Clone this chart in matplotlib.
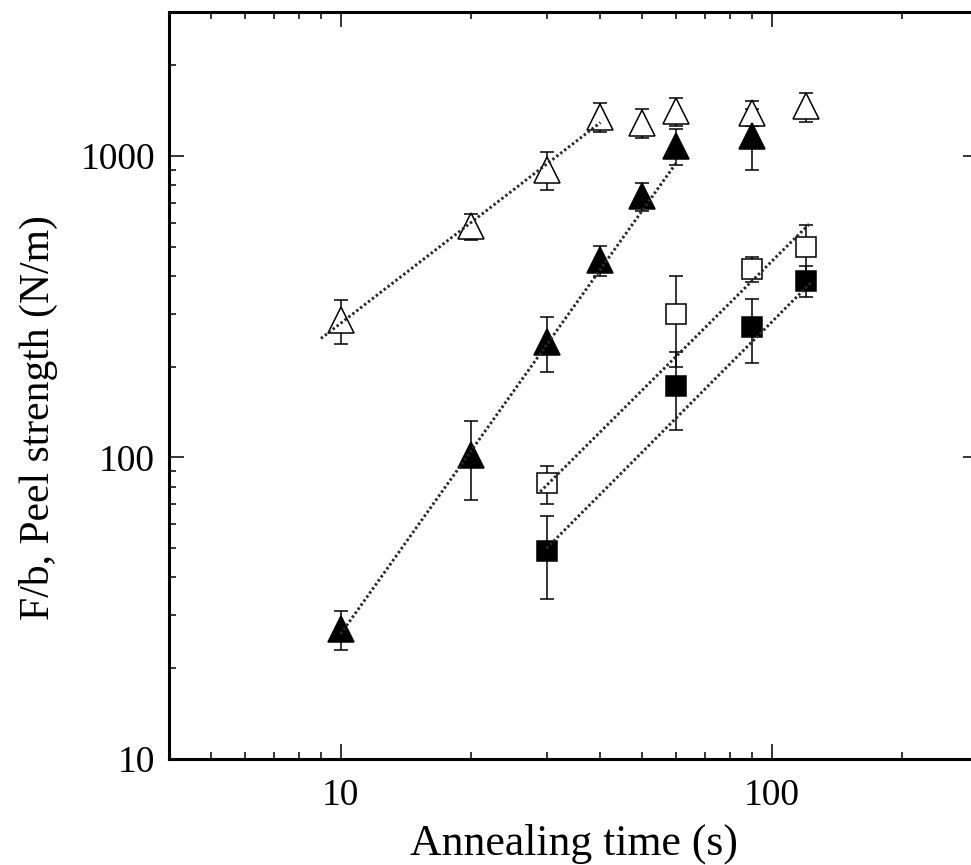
import numpy as np
import matplotlib
matplotlib.use('Agg')
import matplotlib.pyplot as plt
from matplotlib.ticker import LogLocator, NullFormatter, FixedLocator, FixedFormatter

# 剥離強度と焼鈍時間のデータ（4条件）
open_tri_t = [10, 20, 30, 40, 50, 60, 90, 120]
open_tri_f = [285, 586, 900, 1350, 1290, 1410, 1390, 1460]
open_tri_err = [47, 58, 130, 150, 145, 150, 130, 160]

filled_tri_t = [10, 20, 30, 40, 50, 60, 90]
filled_tri_f = [27, 102, 242, 452, 735, 1080, 1165]
filled_tri_err = [4, 30, 50, 52, 80, 150, 265]

open_sq_t = [30, 60, 90, 120]
open_sq_f = [82, 300, 422, 500]
open_sq_err = [12, 100, 40, 90]

filled_sq_t = [30, 60, 90, 120]
filled_sq_f = [49, 173, 270, 386]
filled_sq_err = [15, 50, 65, 45]

# べき乗則フィットの線（両端）
fit_open_tri_t = [9, 40]
fit_open_tri_f = [248, 1290]
fit_filled_tri_t = [10, 60]
fit_filled_tri_f = [26, 950]
fit_open_sq_t = [29, 122]
fit_open_sq_f = [77, 595]
fit_filled_sq_t = [30, 123]
fit_filled_sq_f = [50, 380]

x_ticks = [10, 100]
x_tick_labels = ['10', '100']
y_ticks = [10, 100, 1000]
y_tick_labels = ['10', '100', '1000']

plt.rcParams['font.family'] = ['Liberation Serif', 'DejaVu Serif']

fig = plt.figure(figsize=(9.71, 8.65), dpi=100)
ax = fig.add_axes([169 / 971, 1 - 759 / 865, (978 - 169) / 971, (759 - 12) / 865])
ax.set_xscale('log')
ax.set_yscale('log')
ax.set_xlim(4, 300)
ax.set_ylim(10, 3000)

series = [
    (open_tri_t, open_tri_f, open_tri_err, '^', 'white', 18.5),
    (filled_tri_t, filled_tri_f, filled_tri_err, '^', 'black', 18.5),
    (open_sq_t, open_sq_f, open_sq_err, 's', 'white', 14.5),
    (filled_sq_t, filled_sq_f, filled_sq_err, 's', 'black', 14.5),
]
for t, f, e, m, fc, ms in series:
    ax.errorbar(t, f, yerr=e, fmt='none', ecolor='black', elinewidth=1.1,
                capsize=5, capthick=1.1, zorder=2)
    ax.plot(t, f, linestyle='none', marker=m, markersize=ms,
            markerfacecolor=fc, markeredgecolor='black', markeredgewidth=1.1, zorder=3)

fits = [
    (fit_open_tri_t, fit_open_tri_f),
    (fit_filled_tri_t, fit_filled_tri_f),
    (fit_open_sq_t, fit_open_sq_f),
    (fit_filled_sq_t, fit_filled_sq_f),
]
for ft, ff in fits:
    ax.plot(ft, ff, color='#2a2a2a', linewidth=2.1, linestyle=(0, (0.85, 0.85)), zorder=4)

# 目盛り設定
ax.xaxis.set_major_locator(FixedLocator(x_ticks))
ax.xaxis.set_major_formatter(FixedFormatter(x_tick_labels))
ax.yaxis.set_major_locator(FixedLocator(y_ticks))
ax.yaxis.set_major_formatter(FixedFormatter(y_tick_labels))
ax.xaxis.set_minor_locator(LogLocator(base=10, subs=np.arange(2, 10)))
ax.yaxis.set_minor_locator(LogLocator(base=10, subs=np.arange(2, 10)))
ax.xaxis.set_minor_formatter(NullFormatter())
ax.yaxis.set_minor_formatter(NullFormatter())

ax.tick_params(which='both', direction='in', top=True, right=True, width=1.1)
ax.tick_params(which='major', length=10.8, labelsize=27)
ax.tick_params(which='minor', length=5)
ax.tick_params(axis='x', which='major', pad=14)
ax.tick_params(axis='y', which='major', pad=10)

for sp in ax.spines.values():
    sp.set_linewidth(2.2)

ax.set_xlabel('Annealing time (s)', fontsize=31.5)
ax.set_ylabel('F/b, Peel strength (N/m)', fontsize=30)
ax.xaxis.set_label_coords(0.5, -0.087)
ax.yaxis.set_label_coords(-0.137, 0.4565)

fig.savefig('out.png', dpi=100)
